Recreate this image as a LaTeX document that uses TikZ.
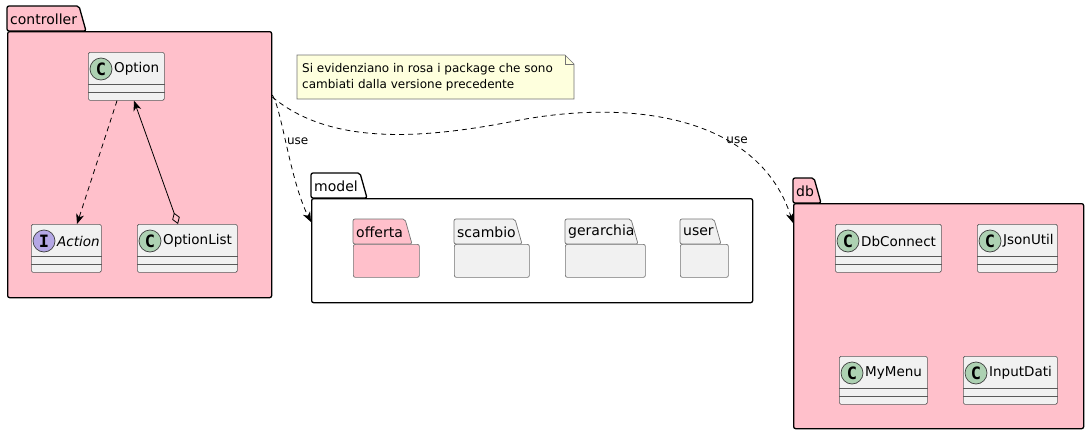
\documentclass[tikz,border=0pt]{standalone}
\usepackage{fontspec}
\setmainfont{DejaVu Sans}
\newfontfamily\letterfont{DejaVu Sans Mono}
\usetikzlibrary{arrows.meta,positioning}
\definecolor{pkgpink}{RGB}{255,192,203}
\definecolor{clsgray}{RGB}{241,241,241}
\definecolor{circgreen}{RGB}{173,209,178}
\definecolor{circpurple}{RGB}{180,167,229}
\definecolor{notefill}{RGB}{254,255,221}

% name, left, top, width, letter, colour, label
\newcommand{\umlclass}[7]{%
\node[clsbox,minimum width=#4pt,anchor=north west] (#1) at (#2,#3) {};
\draw[clsline] ([yshift=-32pt]#1.north west) -- ([yshift=-32pt]#1.north east)
  ([yshift=-40pt]#1.north west) -- ([yshift=-40pt]#1.north east);
\node[clscirc,fill=#6] at ([xshift=13pt,yshift=-17pt]#1.north west) {#5};
\node[clsname] at ([xshift=26pt,yshift=-17pt]#1.north west) {#7};
}
% name, left, tab top, tab right, right, bottom, fill, line, label
\newcommand{\umlpkg}[9]{%
\pgfmathsetmacro{\pw}{#5-#2}%
\pgfmathsetmacro{\ph}{#6-#3-25}%
\draw[#8,fill=#7,rounded corners=2pt] (#2,#3+25) -- (#2,#3) -- (#4,#3) -- (#4+7,#3+25) -- cycle;
\node[#8,fill=#7,rounded corners=2pt,minimum width=\pw pt,minimum height=\ph pt,
  anchor=north west,inner sep=0pt] (#1) at (#2,#3+25) {};
\node[pkgname] at (#2+3,#3+13) {#9};
}

\begin{document}
\begin{tikzpicture}[x=1pt,y=-1pt,
  pkgline/.style={draw=black,line width=1.3pt},
  subline/.style={draw=black!55,line width=0.7pt},
  pkgname/.style={anchor=west,inner sep=0pt,font=\fontsize{14}{16}\selectfont},
  clsbox/.style={draw=black!65,line width=0.7pt,fill=clsgray,rounded corners=1.5pt,
    minimum height=48pt,inner sep=0pt},
  clsline/.style={draw=black!65,line width=0.7pt},
  clscirc/.style={circle,draw=black!75,line width=0.7pt,minimum size=22pt,inner sep=0pt,
    font=\letterfont\bfseries\fontsize{17}{17}\selectfont},
  clsname/.style={anchor=west,inner sep=0pt,font=\fontsize{13.5}{15}\selectfont},
  dep/.style={line width=0.8pt,dash pattern=on 5pt off 4pt,-{Stealth[length=10pt,width=8pt,inset=3pt]}},
  uselabel/.style={anchor=west,inner sep=1pt,font=\fontsize{12}{14}\selectfont}]
\useasboundingbox (0,0) rectangle (1088,434);

\umlpkg{ctrl}{7}{6}{79}{271}{297}{pkgpink}{pkgline}{controller}
\umlpkg{model}{311}{173}{360}{752}{302}{white}{pkgline}{model}
\umlpkg{db}{793}{178}{814}{1083}{428}{pkgpink}{pkgline}{db}

\umlpkg{offerta}{353}{219}{405}{419}{277}{pkgpink}{subline}{offerta}
\umlpkg{scambio}{454}{219}{515}{529}{277}{clsgray}{subline}{scambio}
\umlpkg{gerarchia}{565}{219}{631}{645}{277}{clsgray}{subline}{gerarchia}
\umlpkg{user}{680}{219}{714}{728}{277}{clsgray}{subline}{user}

\umlclass{opt}{88}{52}{76}{C}{circgreen}{Option}
\umlclass{act}{31}{224}{70}{I}{circpurple}{\itshape Action}
\umlclass{optlist}{137}{224}{100}{C}{circgreen}{OptionList}

\umlclass{dbconn}{835}{224}{106}{C}{circgreen}{DbConnect}
\umlclass{json}{977}{224}{80}{C}{circgreen}{JsonUtil}
\umlclass{menu}{839}{356}{88}{C}{circgreen}{MyMenu}
\umlclass{input}{963}{356}{94}{C}{circgreen}{InputDati}

\draw[draw=black!55,line width=0.7pt,fill=notefill] (297,55) -- (565,55) -- (574,64) -- (574,99) -- (297,99) -- cycle;
\draw[draw=black!55,line width=0.7pt] (565,55) -- (565,64) -- (574,64);
\node[anchor=west,align=left,inner sep=0pt,font=\fontsize{12}{16}\selectfont] (note) at (302,77)
  {Si evidenziano in rosa i package che sono\\cambiati dalla versione precedente};

\draw[dep] ([xshift=29pt]opt.south west) -- ([xshift=46pt]act.north west);
\draw[line width=0.8pt,{Stealth[length=10pt,width=8pt,inset=3pt]}-{Diamond[open,length=12pt,width=8pt]}]
  ([xshift=46pt]opt.south west) -- ([xshift=41pt]optlist.north west);

\draw[dep] ([yshift=-64pt]ctrl.north east) .. controls (282,110) and (290,180) ..
  ([yshift=-24pt]model.north west) node[uselabel,pos=0.45] {use};
\draw[dep] ([yshift=-66pt]ctrl.north east) .. controls (330,145) and (420,140) .. (520,120)
  .. controls (640,98) and (760,120) .. ([yshift=-20pt]db.north west) node[uselabel,pos=0.63] {use};
\end{tikzpicture}
\end{document}
